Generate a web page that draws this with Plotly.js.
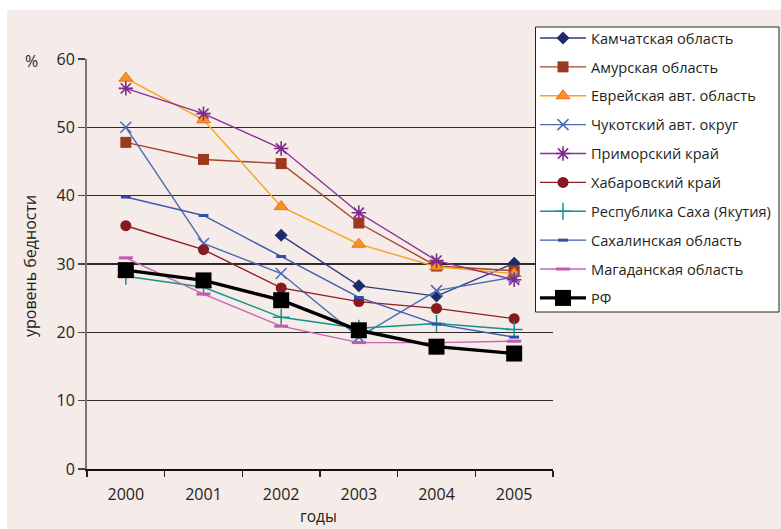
<!DOCTYPE html>
<html>
<head>
<meta charset="utf-8">
<script src="https://cdn.plot.ly/plotly-3.0.1.min.js"></script>
<style>
  html, body { margin: 0; padding: 0; background: #ffffff; }
  #chart { width: 781px; height: 529px; }
</style>
</head>
<body>
<div id="chart"></div>
<script>
// Уровень бедности по регионам Дальнего Востока, 2000–2005, %
const years = ['2000', '2001', '2002', '2003', '2004', '2005'];

const kamchatka = [null, null, 34.2, 26.8, 25.3, 30.1];
const amur      = [47.8, 45.3, 44.7, 36.0, 29.7, 29.0];
const evrei     = [57.2, 51.1, 38.4, 32.9, 29.6, 28.6];
const chukotka  = [50.0, 33.0, 28.6, 19.3, 26.1, 28.1];
const primorye  = [55.7, 52.0, 46.9, 37.5, 30.5, 27.7];
const khabar    = [35.6, 32.1, 26.5, 24.5, 23.5, 22.0];
const sakha     = [28.2, 26.6, 22.2, 20.6, 21.3, 20.4];
const sakhalin  = [39.8, 37.1, 31.1, 25.1, 21.2, 19.3];
const magadan   = [30.9, 25.6, 20.9, 18.5, 18.5, 18.7];
const rf        = [29.1, 27.6, 24.7, 20.3, 17.9, 16.9];

const names = [
  'Камчатская область',
  'Амурская область',
  'Еврейская авт. область',
  'Чукотский авт. округ',
  'Приморский край',
  'Хабаровский край',
  'Республика Саха (Якутия)',
  'Сахалинская область',
  'Магаданская область',
  'РФ'
];

function series(i, y, lineColor, lineWidth, marker) {
  return {
    type: 'scatter',
    mode: 'lines+markers',
    x: years,
    y: y,
    name: names[i],
    legendgroup: 'g' + i,
    connectgaps: false,
    line: { color: lineColor, width: lineWidth },
    marker: marker,
    hoverinfo: 'x+y+name'
  };
}

const traces = [
  series(0, kamchatka, '#2f3b7e', 1.4,
    { symbol: 'diamond', size: 10, color: '#1f2a6b', line: { width: 0 } }),
  series(1, amur, '#a3452a', 1.4,
    { symbol: 'square', size: 11, color: '#9b3a1c', line: { width: 0 } }),
  series(2, evrei, '#f8a21c', 1.4,
    { symbol: 'triangle-up', size: 12, color: '#f7941d', line: { color: '#ef6a22', width: 1 } }),
  series(3, chukotka, '#4a6cb3', 1.4,
    { symbol: 'x-thin-open', size: 11, color: '#4a6cb3', line: { width: 1.5 } }),
  series(4, primorye, '#86329a', 1.4,
    { symbol: 'asterisk-open', size: 12, color: '#7d2b8b', line: { width: 1.6 } }),
  series(5, khabar, '#8e1f22', 1.4,
    { symbol: 'circle', size: 11, color: '#861a1e', line: { width: 0 } }),
  series(6, sakha, '#14928c', 1.4,
    { symbol: 'cross-thin-open', size: 12, color: '#14928c', line: { width: 1.5 } }),
  series(7, sakhalin, '#3b5cae', 1.4,
    { symbol: 'line-ew-open', size: 7, color: '#2f4fa6', line: { width: 3 } }),
  series(8, magadan, '#c466b6', 1.4,
    { symbol: 'line-ew-open', size: 10, color: '#bf5aaf', line: { width: 3 } }),
  series(9, rf, '#000000', 3.4,
    { symbol: 'square', size: 16, color: '#000000', line: { width: 0 } })
];

// plot area: x 87..553 px, y 59..469 px
const W = 781, H = 529;
const L = 87, R = 553, T = 59, B = 469;
const px = x => (x - L) / (R - L);
const py = y => (B - y) / (B - T);

const layout = {
  width: W,
  height: H,
  margin: { l: L, r: W - R, t: T, b: H - B, pad: 0, autoexpand: false },
  paper_bgcolor: '#ffffff',
  plot_bgcolor: 'rgba(0,0,0,0)',
  font: { family: '"Open Sans", "DejaVu Sans", sans-serif', color: '#231f20' },
  showlegend: true,
  legend: {
    x: px(535), y: py(22), xanchor: 'left', yanchor: 'top',
    bgcolor: 'rgba(0,0,0,0)',
    borderwidth: 0,
    font: { size: 14.6, color: '#231f20' },
    traceorder: 'grouped',
    tracegroupgap: 6.9,
    itemwidth: 46,
    maxheight: 450
  },
  xaxis: {
    type: 'category',
    categoryorder: 'array',
    categoryarray: years,
    range: [-0.5, 5.5],
    tickson: 'boundaries',
    ticks: 'outside',
    ticklen: 6,
    tickcolor: '#222222',
    tickwidth: 1.2,
    ticklabelstandoff: 10,
    showgrid: false,
    showline: true,
    linecolor: '#111111',
    linewidth: 1.5,
    tickfont: { size: 16 },
    fixedrange: true
  },
  yaxis: {
    range: [0, 60],
    dtick: 10,
    tick0: 0,
    ticks: 'outside',
    ticklen: 7,
    tickcolor: '#444444',
    tickwidth: 1.2,
    showgrid: true,
    gridcolor: '#2b2b2b',
    gridwidth: 1.2,
    zeroline: false,
    showline: true,
    linecolor: '#7a7676',
    linewidth: 2,
    tickfont: { size: 16 },
    fixedrange: true
  },
  shapes: [
    // tinted background panel with a white border on the top and left
    {
      type: 'rect', xref: 'paper', yref: 'paper', layer: 'below',
      x0: px(7), x1: px(W + 5), y0: py(10), y1: py(H + 5),
      fillcolor: '#f5ebe8', line: { width: 0 }
    },
    // legend frame
    {
      type: 'rect', xref: 'paper', yref: 'paper', layer: 'above',
      x0: px(535.5), x1: px(779), y0: py(27), y1: py(312),
      fillcolor: '#ffffff', line: { color: '#222222', width: 1 }
    }
  ],
  annotations: [
    {
      text: '%', xref: 'paper', yref: 'paper',
      x: px(31), y: py(61), xanchor: 'center', yanchor: 'middle',
      showarrow: false, font: { size: 16 }
    },
    {
      text: 'уровень бедности', xref: 'paper', yref: 'paper',
      x: px(30), y: py(266), xanchor: 'center', yanchor: 'middle',
      textangle: -90, showarrow: false, font: { size: 16 }
    },
    {
      text: 'годы', xref: 'paper', yref: 'paper',
      x: px(318), y: py(516), xanchor: 'center', yanchor: 'middle',
      showarrow: false, font: { size: 15.5 }
    }
  ]
};

Plotly.newPlot('chart', traces, layout, { displayModeBar: false, staticPlot: true });
</script>
</body>
</html>
